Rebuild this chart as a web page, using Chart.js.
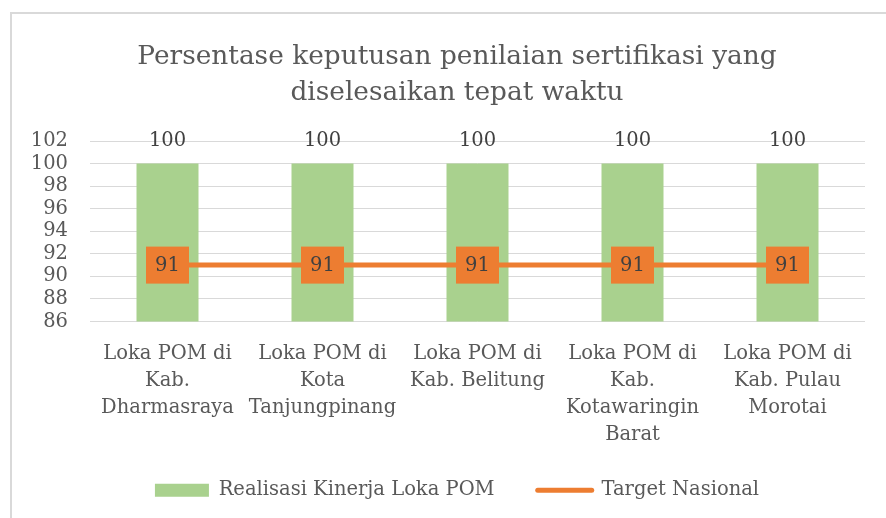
<!DOCTYPE html>
<html>
<head>
<meta charset="utf-8">
<script src="https://cdn.jsdelivr.net/npm/chart.js@4/dist/chart.umd.min.js"></script>
<style>
  html, body { margin: 0; padding: 0; background: #ffffff; overflow: hidden; }
  #wrap { position: relative; width: 886px; height: 518px; }
  #frame { position: absolute; left: 10px; top: 12px; width: 920px; height: 600px;
           border-left: 2px solid #d9d9d9; border-top: 2px solid #d9d9d9; }
  canvas { position: absolute; left: 0; top: 0; }
</style>
</head>
<body>
<div id="wrap">
  <div id="frame"></div>
  <canvas id="c" width="886" height="518"></canvas>
</div>
<script>
const titleLines = ['Persentase keputusan penilaian sertifikasi yang', 'diselesaikan tepat waktu'];
const categories = [
  ['Loka POM di', 'Kab.', 'Dharmasraya'],
  ['Loka POM di', 'Kota', 'Tanjungpinang'],
  ['Loka POM di', 'Kab. Belitung'],
  ['Loka POM di', 'Kab.', 'Kotawaringin', 'Barat'],
  ['Loka POM di', 'Kab. Pulau', 'Morotai']
];
const realisasi = [100, 100, 100, 100, 100];
const target = [91, 91, 91, 91, 91];
const seriesNames = ['Realisasi Kinerja Loka POM', 'Target Nasional'];
const yMin = 86, yMax = 102, yStep = 2;

const FONT = "'DejaVu Serif', serif";
const TXT = '#595959';

const labelPlugin = {
  id: 'valueLabels',
  afterDatasetsDraw(chart) {
    const ctx = chart.ctx;
    ctx.save();
    ctx.font = '19.5px ' + FONT;
    ctx.textAlign = 'center';
    ctx.textBaseline = 'middle';
    const barMeta = chart.getDatasetMeta(0);
    barMeta.data.forEach((el, i) => {
      ctx.fillStyle = '#404040';
      ctx.fillText(String(realisasi[i]), el.x, el.y - 23);
    });
    const lineMeta = chart.getDatasetMeta(1);
    lineMeta.data.forEach((el, i) => {
      const w = 43, h = 37;
      ctx.fillStyle = '#ED7D31';
      ctx.fillRect(el.x - w / 2, el.y - h / 2, w, h);
      ctx.fillStyle = '#404040';
      ctx.fillText(String(target[i]), el.x, el.y + 1);
    });
    ctx.restore();
  }
};

new Chart(document.getElementById('c'), {
  type: 'bar',
  data: {
    labels: categories,
    datasets: [
      {
        type: 'bar',
        label: seriesNames[0],
        data: realisasi,
        backgroundColor: '#A9D18E',
        borderWidth: 0,
        categoryPercentage: 1.0,
        barPercentage: 0.4,
        order: 1
      },
      {
        type: 'line',
        label: seriesNames[1],
        data: target,
        borderColor: '#ED7D31',
        backgroundColor: '#ED7D31',
        borderWidth: 5,
        borderCapStyle: 'round',
        pointRadius: 0,
        pointStyle: 'line',
        fill: false,
        order: 0
      }
    ]
  },
  options: {
    responsive: false,
    animation: false,
    events: [],
    layout: { padding: { left: 49, right: 21, top: 0, bottom: 8 } },
    scales: {
      x: {
        grid: { display: false, drawTicks: false },
        border: { display: false },
        ticks: { color: TXT, font: { family: FONT, size: 19.5, lineHeight: 27 / 19.5 }, padding: 18.5, maxRotation: 0, autoSkip: false },
        afterFit(scale) { scale.height = 149; }
      },
      y: {
        min: yMin, max: yMax,
        grid: { color: '#D9D9D9', lineWidth: 1, drawTicks: false },
        border: { display: false },
        ticks: { stepSize: yStep, autoSkip: false, color: TXT, font: { family: FONT, size: 19.5 }, padding: 22 },
        afterFit(scale) {
          scale.width = 41;
          scale._computeLabelArea = () => undefined;
        }
      }
    },
    plugins: {
      title: {
        display: true,
        text: titleLines,
        color: TXT,
        font: { family: FONT, size: 26.4, weight: 'normal', lineHeight: 36 / 26.4 },
        padding: { top: 39, bottom: 30 }
      },
      legend: {
        position: 'bottom',
        labels: {
          color: TXT,
          font: { family: FONT, size: 19.5 },
          usePointStyle: true,
          pointStyleWidth: 54,
          boxHeight: 13,
          padding: 10,
          sort: (a, b) => a.datasetIndex - b.datasetIndex,
          generateLabels(chart) {
            return chart.data.datasets.map((ds, i) => ({
              text: i === 0 ? ds.label + '\u2003\u2002\u2009' : ds.label,
              fillStyle: ds.type === 'line' ? ds.borderColor : ds.backgroundColor,
              strokeStyle: ds.type === 'line' ? ds.borderColor : ds.backgroundColor,
              lineWidth: ds.type === 'line' ? 5 : 0,
              lineCap: 'round',
              pointStyle: ds.type === 'line' ? 'line' : 'rect',
              fontColor: TXT,
              hidden: false,
              datasetIndex: i
            }));
          }
        }
      },
      tooltip: { enabled: false }
    }
  },
  plugins: [labelPlugin]
});
</script>
</body>
</html>
